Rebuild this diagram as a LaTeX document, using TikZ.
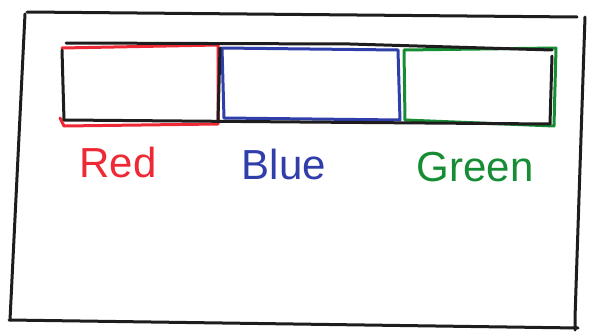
\documentclass[tikz,border=0pt]{standalone}
\usepackage{fontspec}
\setmainfont{Liberation Sans}
\definecolor{penred}{RGB}{238,40,52}
\definecolor{penblue}{RGB}{48,62,170}
\definecolor{pengreen}{RGB}{22,140,52}
\definecolor{penblack}{RGB}{30,28,28}
\begin{document}
\begin{tikzpicture}[x=1pt,y=-1pt,line join=round,line cap=round,
  ink/.style={line width=3pt},
  lbl/.style={font=\fontsize{42}{42}\selectfont,inner sep=0pt,anchor=base}]
\useasboundingbox (0,0) rectangle (590,332);
% outer frame
\draw[ink,penblack] (27,12) -- (577,17) (585,17) -- (575,318) -- (575,330)
  (578,328) -- (9,320) (10,320) -- (25,14);
% coloured segments
\draw[ink,penred] (62,48) -- (218,45) -- (218,124) -- (64,126) -- (60,118);
\draw[ink,penblue] (222,48) -- (398,50) -- (400,120) -- (224,118) -- cycle;
\draw[ink,pengreen] (404,50) -- (556,48) -- (554,126) -- (405,120) -- cycle;
% black bar outline
\draw[ink,penblack] (66,43) -- (350,44) -- (552,50) (552,56) -- (550,124)
  -- (300,122) -- (64,120) -- (62,50);
\draw[ink,penblack] (220,48) -- (218,120);
% labels
\node[lbl,text=penred]   (red)   at (118,177) {Red};
\node[lbl,text=penblue]  (blue)  at (284,179) {Blue};
\node[lbl,text=pengreen] (green) at (475,181) {Green};
\end{tikzpicture}
\end{document}
